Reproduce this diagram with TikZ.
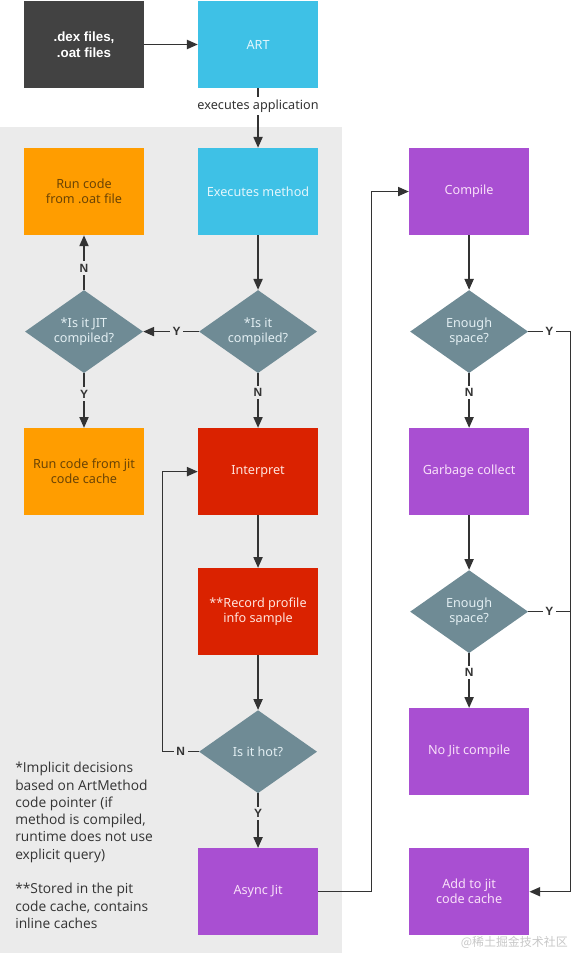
\documentclass[tikz,border=0pt]{standalone}
\usepackage{fontspec}
\setmainfont{Noto Sans}
\newfontfamily\notefont{Open Sans}
\newfontfamily\labelfont{Liberation Sans}
\newfontfamily\cjkfont{Noto Sans CJK SC}
\usepackage{tikz}
\usetikzlibrary{arrows.meta,positioning,shapes.geometric}
\definecolor{artDark}{HTML}{424242}
\definecolor{artCyan}{HTML}{3EC1E6}
\definecolor{artCyanText}{HTML}{E2F6FC}
\definecolor{artOrange}{HTML}{FF9D00}
\definecolor{artOrangeText}{HTML}{6B4405}
\definecolor{artRed}{HTML}{DA2200}
\definecolor{artRedText}{HTML}{FFE3DC}
\definecolor{artPurple}{HTML}{A94FD2}
\definecolor{artPurpleText}{HTML}{F9E0F9}
\definecolor{artSlate}{HTML}{6F8B95}
\definecolor{artSlateText}{HTML}{E3EFF3}
\definecolor{artPanel}{HTML}{EBEBEB}
\definecolor{artLine}{HTML}{333333}
\tikzset{
  flow/.style={-{Triangle[length=2.7mm,width=2.3mm]}, line width=0.9pt,
    draw=artLine},
  rail/.style={line width=0.9pt, draw=artLine},
  step box/.style={rectangle, minimum width=3cm, minimum height=2.175cm,
    align=center, inner sep=2pt, font=\fontsize{9}{10.7}\selectfont},
  dark box/.style={step box, fill=artDark, text=white,
    font=\labelfont\fontsize{9.5}{11}\selectfont\bfseries},
  cyan box/.style={step box, fill=artCyan, text=artCyanText},
  orange box/.style={step box, fill=artOrange, text=artOrangeText},
  red box/.style={step box, fill=artRed, text=artRedText},
  purple box/.style={step box, fill=artPurple, text=artPurpleText},
  decision/.style={diamond, aspect=1.42, fill=artSlate, text=artSlateText,
    minimum width=2.95cm, minimum height=2.075cm, inner sep=1pt,
    align=center, font=\fontsize{9}{10.7}\selectfont},
  yn/.style={fill=artPanel, text=artLine, inner sep=1.8pt,
    font=\labelfont\fontsize{8.5}{9}\selectfont\bfseries},
  yn white/.style={yn, fill=white},
  edge note/.style={fill=white, text=artLine, inner sep=2pt,
    font=\fontsize{9}{10.7}\selectfont},
  note/.style={align=left, text=artLine, inner sep=0pt,
    font=\notefont\fontsize{9.8}{12.3}\selectfont},
  watermark/.style={text=black!22, inner sep=0pt,
    font=\cjkfont\fontsize{8.5}{9}\selectfont}
}
\begin{document}
\begin{tikzpicture}[x=0.025cm, y=-0.025cm, node distance=3.5cm and 4.35cm,
  on grid]
  \useasboundingbox (0,0) rectangle (572,953);
  \fill[artPanel] (0,127) rectangle (342,953);

  \node[dark box] (dex) at (84,44.5) {.dex files,\\.oat files};
  \node[cyan box, right=of dex] (art) {ART};
  \node[cyan box, below=3.675cm of art] (exec) {Executes method};
  \node[decision, below=of exec] (compiled) {*Is it\\compiled?};
  \node[decision, left=of compiled] (jitq) {*Is it JIT\\compiled?};
  \node[orange box, above=of jitq] (runoat) {Run code\\from .oat file};
  \node[orange box, below=of jitq] (runjit) {Run code from jit\\code cache};
  \node[red box, below=of compiled] (interp) {Interpret};
  \node[red box, below=of interp] (record) {**Record profile\\info sample};
  \node[decision, below=of record] (hot) {Is it hot?};
  \node[purple box, below=of hot] (async) {Async Jit};
  \node[purple box, right=5.275cm of exec] (compile) {Compile};
  \node[decision, below=of compile] (space1) {Enough\\space?};
  \node[purple box, below=of space1] (gc) {Garbage collect};
  \node[decision, below=of gc] (space2) {Enough\\space?};
  \node[purple box, below=of space2] (nojit) {No Jit compile};
  \node[purple box, below=of nojit] (addjit) {Add to jit\\code cache};

  \node[note, anchor=north west] (notes) at (15,762)
    {*Implicit decisions\\based on ArtMethod\\code pointer (if\\method is compiled,\\runtime does not use\\explicit query)\\[12.3pt]
     **Stored in the pit\\code cache, contains\\inline caches};
  \node[watermark, anchor=south east] (wm) at (568,949) {@稀土掘金技术社区};

  \draw[flow] (dex) -- (art);
  \draw[flow] (art) -- node[edge note, pos=0.3] (applabel) {executes application} (exec);
  \draw[flow] (exec) -- (compiled);
  \draw[flow] (compiled) -- node[yn, pos=0.4] (y1) {Y} (jitq);
  \draw[flow] (jitq) -- node[yn, pos=0.4] (n1) {N} (runoat);
  \draw[flow] (jitq) -- node[yn, pos=0.38] (y2) {Y} (runjit);
  \draw[flow] (compiled) -- node[yn, pos=0.35] (n2) {N} (interp);
  \draw[flow] (interp) -- (record);
  \draw[flow] (record) -- (hot);
  \draw[flow] (hot.west) -- node[yn] (n3) {N} ++(-36,0) |- (interp.west);
  \draw[flow] (hot) -- node[yn, pos=0.37] (y3) {Y} (async);
  \draw[flow] (async.east) -- ++(53,0) |- (compile.west);
  \draw[flow] (compile) -- (space1);
  \draw[flow] (space1) -- node[yn white, pos=0.35] (n4) {N} (gc);
  \draw[flow] (gc) -- (space2);
  \draw[flow] (space2) -- node[yn white, pos=0.35] (n5) {N} (nojit);
  \draw[flow] (space1.east) -- node[yn white] (y4) {Y} ++(42,0)
    coordinate (yrail) |- (addjit.east);
  \draw[rail] (space2.east) -- node[yn white] (y5) {Y} (space2.east -| yrail);
\end{tikzpicture}
\end{document}
